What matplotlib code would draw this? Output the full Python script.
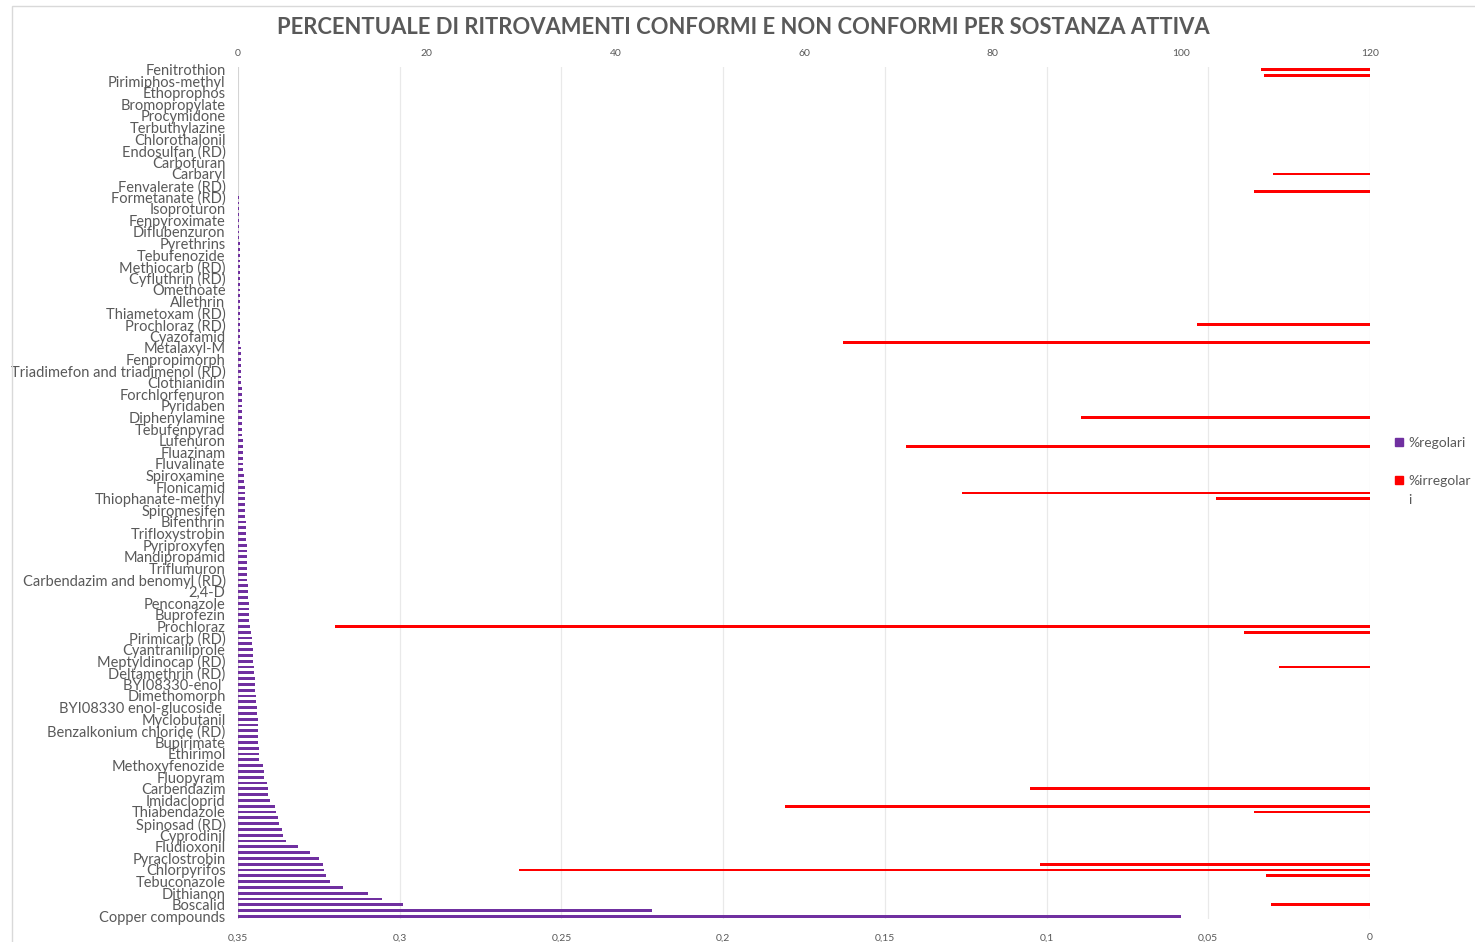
import matplotlib.pyplot as plt
from matplotlib.patches import Rectangle

plt.rcParams['font.family'] = ['Lato', 'DejaVu Sans']

title = 'PERCENTUALE DI RITROVAMENTI CONFORMI E NON CONFORMI PER SOSTANZA ATTIVA'

# only every other category is labelled in the original chart (147 rows, 74 labels)
substances = [
    'Fenitrothion', 'Pirimiphos-methyl', 'Ethoprophos', 'Bromopropylate', 'Procymidone',
    'Terbuthylazine', 'Chlorothalonil', 'Endosulfan (RD)', 'Carbofuran', 'Carbaryl',
    'Fenvalerate (RD)', 'Formetanate (RD)', 'Isoproturon', 'Fenpyroximate', 'Diflubenzuron',
    'Pyrethrins', 'Tebufenozide', 'Methiocarb (RD)', 'Cyfluthrin (RD)', 'Omethoate',
    'Allethrin', 'Thiametoxam (RD)', 'Prochloraz (RD)', 'Cyazofamid', 'Metalaxyl-M',
    'Fenpropimorph', 'Triadimefon and triadimenol (RD)', 'Clothianidin', 'Forchlorfenuron', 'Pyridaben',
    'Diphenylamine', 'Tebufenpyrad', 'Lufenuron', 'Fluazinam', 'Fluvalinate',
    'Spiroxamine', 'Flonicamid', 'Thiophanate-methyl', 'Spiromesifen', 'Bifenthrin',
    'Trifloxystrobin', 'Pyriproxyfen', 'Mandipropamid', 'Triflumuron', 'Carbendazim and benomyl (RD)',
    '2,4-D', 'Penconazole', 'Buprofezin', 'Prochloraz', 'Pirimicarb (RD)',
    'Cyantraniliprole', 'Meptyldinocap (RD)', 'Deltamethrin (RD)', 'BYI08330-enol ', 'Dimethomorph',
    'BYI08330 enol-glucoside ', 'Myclobutanil', 'Benzalkonium chloride (RD)', 'Bupirimate', 'Ethirimol',
    'Methoxyfenozide', 'Fluopyram', 'Carbendazim', 'Imidacloprid', 'Thiabendazole',
    'Spinosad (RD)', 'Cyprodinil', 'Fludioxonil', 'Pyraclostrobin', 'Chlorpyrifos',
    'Tebuconazole', 'Dithianon', 'Boscalid', 'Copper compounds',
]

# %regolari (top axis, 0-120), one value per row from top to bottom
regolari = [
    0, 0, 0, 0, 0, 0, 0, 0, 0, 0,
    0, 0.03, 0.03, 0.03, 0.03, 0.03, 0.03, 0.03, 0.03, 0.03,
    0.03, 0.03, 0.1, 0.1, 0.1, 0.1, 0.1, 0.1, 0.1, 0.1,
    0.16, 0.17, 0.17, 0.18, 0.18, 0.19, 0.19, 0.2, 0.2, 0.2,
    0.21, 0.2, 0.21, 0.21, 0.25, 0.25, 0.25, 0.25, 0.28, 0.28,
    0.32, 0.32, 0.35, 0.35, 0.35, 0.39, 0.39, 0.42, 0.42, 0.42,
    0.46, 0.45, 0.46, 0.46, 0.49, 0.49, 0.53, 0.53, 0.57, 0.57,
    0.6, 0.64, 0.71, 0.71, 0.71, 0.78, 0.78, 0.76, 0.81, 0.88,
    0.88, 0.88, 0.92, 0.92, 0.95, 0.95, 0.99, 0.99, 0.99, 1.02,
    1.02, 1.1, 1.13, 1.13, 1.13, 1.13, 1.31, 1.38, 1.45, 1.52,
    1.55, 1.55, 1.59, 1.66, 1.73, 1.84, 1.84, 1.84, 1.87, 1.87,
    2.01, 2.05, 2.08, 2.08, 2.12, 2.12, 2.16, 2.19, 2.19, 2.26,
    2.69, 2.72, 2.79, 3.04, 3.18, 3.22, 3.39, 3.92, 3.99, 4.24,
    4.38, 4.70, 4.81, 5.05, 6.33, 7.67, 8.55, 9.05, 9.08, 9.33,
    9.72, 11.1, 13.75, 15.3, 17.5, 43.9, 100.0,
]

# %irregolari (bottom axis, reversed 0.35-0)
irregolari = [
    0.0337, 0.0327, 0, 0, 0, 0, 0, 0, 0, 0,
    0, 0, 0, 0, 0, 0, 0, 0, 0.0299, 0,
    0, 0.036, 0, 0, 0, 0, 0, 0, 0, 0,
    0, 0, 0, 0, 0, 0, 0, 0, 0, 0,
    0, 0, 0, 0, 0.0535, 0, 0, 0.163, 0, 0,
    0, 0, 0, 0, 0, 0, 0, 0, 0, 0,
    0.0894, 0, 0, 0, 0, 0.1435, 0, 0, 0, 0,
    0, 0, 0, 0.126, 0.0476, 0, 0, 0, 0, 0,
    0, 0, 0, 0, 0, 0, 0, 0, 0, 0,
    0, 0, 0, 0, 0, 0, 0.32, 0.0391, 0, 0,
    0, 0, 0, 0.028, 0, 0, 0, 0, 0, 0,
    0, 0, 0, 0, 0, 0, 0, 0, 0, 0,
    0, 0, 0, 0, 0.105, 0, 0, 0.181, 0.0359, 0,
    0, 0, 0, 0, 0, 0, 0, 0.102, 0.263, 0.0322,
    0, 0, 0, 0, 0.0305, 0, 0,
]

top_ticks = [0, 20, 40, 60, 80, 100, 120]
bottom_ticks = [0.35, 0.3, 0.25, 0.2, 0.15, 0.1, 0.05, 0]
bottom_labels = ['0,35', '0,3', '0,25', '0,2', '0,15', '0,1', '0,05', '0']

purple = '#7030A0'
red = '#FF0000'
grey = '#595959'

W, H = 1475, 942
fig = plt.figure(figsize=(W / 100, H / 100), dpi=100)

# light chart border
fig.patches.append(Rectangle((12 / W, -0.01), 1.1, 1 - 6 / H + 0.01, transform=fig.transFigure,
                             fill=False, edgecolor='#D9D9D9', lw=1))

ax = fig.add_axes([238 / W, 22.7 / H, 1132 / W, 852.6 / H])
ax2 = ax.twiny()

rows = list(range(len(regolari)))
ax.barh(rows, irregolari, height=0.45, color=red, zorder=3)
ax.set_xlim(0.35, 0)
ax2.barh(rows, regolari, height=0.5, color=purple, zorder=3)
ax2.set_xlim(0, 120)
ax.set_ylim(len(rows) - 0.5, -0.5)

ax.set_xticks(bottom_ticks)
ax.set_xticklabels(bottom_labels)
ax2.set_xticks(top_ticks)
ax.set_yticks(rows[::2])
ax.set_yticklabels(substances)

ax.grid(axis='x', color='#E9E9E9', lw=0.9)
ax.set_axisbelow(True)
ax2.axvline(0, color='#D0D0D0', lw=1.2, zorder=1)

for a in (ax, ax2):
    for s in a.spines.values():
        s.set_visible(False)
ax.tick_params(axis='x', length=0, colors=grey, labelsize=7.5, pad=10)
ax2.tick_params(axis='x', length=0, colors=grey, labelsize=7.5, pad=6)
ax.tick_params(axis='y', length=0, colors=grey, labelsize=10.5, pad=9)

fig.text(743 / W, 1 - 28 / H, title, ha='center', va='center', fontsize=15.8,
         fontweight='bold', color=grey)

# legend
fig.patches.append(Rectangle((1395 / W, 1 - 446 / H), 8 / W, 8 / H, transform=fig.transFigure,
                             color=purple))
fig.patches.append(Rectangle((1395 / W, 1 - 484 / H), 8 / W, 8 / H, transform=fig.transFigure,
                             color=red))
fig.text(1408 / W, 1 - 443 / H, '%regolari', ha='left', va='center', fontsize=10, color=grey)
fig.text(1408 / W, 1 - 481 / H, '%irregolar', ha='left', va='center', fontsize=10, color=grey)
fig.text(1408 / W, 1 - 500 / H, 'i', ha='left', va='center', fontsize=10, color=grey)

fig.savefig('out.png', dpi=100)
